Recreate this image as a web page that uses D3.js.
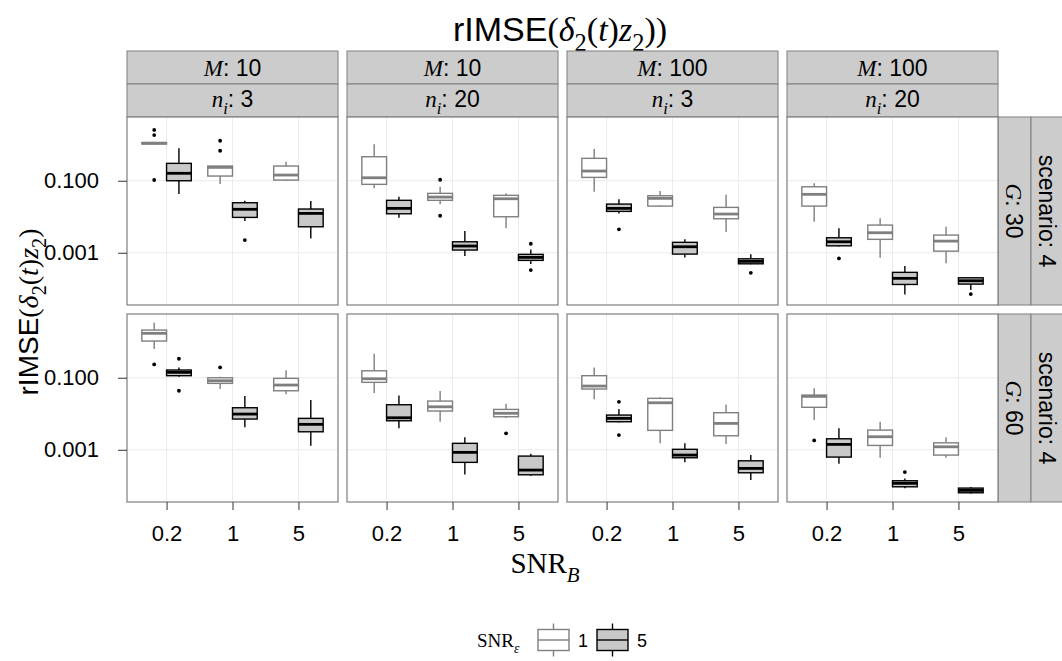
<!DOCTYPE html>
<html>
<head>
<meta charset="utf-8">
<script src="https://cdn.jsdelivr.net/npm/d3@7"></script>
<style>
body { margin: 0; background: #fff; }
text { font-family: "Liberation Sans", Arial, sans-serif; fill: #000; }
.it { font-family: "Liberation Serif", serif; font-style: italic; }
.rm { font-family: "Liberation Serif", serif; }
</style>
</head>
<body>
<script>
// facets and groups
var snrB = ["0.2", "1", "5"];
var snrEps = ["1", "5"];
var Ms = [10, 10, 100, 100];
var nis = [3, 20, 3, 20];
var Gs = [30, 60];
var yTicks = [0.1, 0.001];

// box stats per panel: [lower whisker, q1, median, q3, upper whisker, outliers]
// order: SNR_B 0.2 (eps 1, eps 5), 1 (eps 1, eps 5), 5 (eps 1, eps 5)
var g30_m10_n3 = [
  [1.05, 1.05, 1.1, 1.15, 1.15, [2.57, 1.86, 0.105]],
  [0.0427, 0.1, 0.161, 0.304, 0.794, []],
  [0.081, 0.135, 0.235, 0.256, 0.256, [1.29, 0.68]],
  [0.0076, 0.0096, 0.0161, 0.0245, 0.0278, [0.00225]],
  [0.098, 0.1045, 0.144, 0.256, 0.337, []],
  [0.00251, 0.00527, 0.0124, 0.0164, 0.0273, []]
];
var g30_m10_n20 = [
  [0.0615, 0.0794, 0.121, 0.464, 1.03, []],
  [0.0094, 0.0121, 0.0171, 0.0286, 0.036, []],
  [0.0221, 0.0286, 0.0352, 0.0447, 0.068, [0.1066, 0.01066]],
  [0.00081, 0.00119, 0.00154, 0.00202, 0.004, []],
  [0.00477, 0.01, 0.0316, 0.0393, 0.0447, []],
  [0.000485, 0.000615, 0.000745, 0.000903, 0.00124, [0.00178, 0.00033]]
];
var g30_m100_n3 = [
  [0.0495, 0.124, 0.186, 0.419, 0.76, []],
  [0.0124, 0.0141, 0.0171, 0.0225, 0.0304, [0.00447]],
  [0.019, 0.0198, 0.0324, 0.0383, 0.0518, []],
  [0.000745, 0.00092, 0.00147, 0.00195, 0.00236, []],
  [0.00376, 0.0088, 0.0119, 0.0182, 0.0408, []],
  [0.00048, 0.000494, 0.000577, 0.00068, 0.000903, [0.000278]]
];
var g30_m100_n20 = [
  [0.00726, 0.0198, 0.0419, 0.068, 0.0847, []],
  [0.0015, 0.00156, 0.00202, 0.00261, 0.00477, [0.000698]],
  [0.000726, 0.00236, 0.0036, 0.00588, 0.00903, []],
  [0.0000698, 0.000132, 0.000195, 0.000286, 0.000428, []],
  [0.000508, 0.00111, 0.00211, 0.0031, 0.00527, []],
  [0.000092, 0.000135, 0.000167, 0.000202, 0.000202, [0.0000713]]
];
var g60_m10_n3 = [
  [0.627, 1.045, 1.71, 2.11, 3.37, [0.235]],
  [0.107, 0.114, 0.141, 0.164, 0.194, [0.337, 0.0435]],
  [0.0486, 0.0698, 0.0826, 0.1, 0.107, [0.194]],
  [0.00419, 0.00713, 0.0098, 0.0147, 0.031, []],
  [0.0346, 0.0435, 0.0627, 0.0962, 0.161, []],
  [0.00129, 0.00316, 0.00508, 0.00745, 0.024, []]
];
var g60_m10_n20 = [
  [0.0376, 0.0745, 0.0938, 0.156, 0.464, []],
  [0.00393, 0.00639, 0.00774, 0.0178, 0.0324, []],
  [0.006, 0.0119, 0.0156, 0.0225, 0.0427, []],
  [0.000207, 0.000447, 0.000848, 0.00151, 0.00221, []],
  [0.0076, 0.00826, 0.0103, 0.0132, 0.019, [0.00286]],
  [0.00019, 0.000202, 0.000273, 0.000668, 0.000774, []]
];
var g60_m100_n3 = [
  [0.0251, 0.0486, 0.0588, 0.114, 0.194, []],
  [0.0057, 0.006, 0.00745, 0.0092, 0.0135, [0.0215, 0.00256]],
  [0.00151, 0.00346, 0.0202, 0.0268, 0.0286, []],
  [0.000447, 0.0006, 0.000713, 0.00103, 0.00151, []],
  [0.00144, 0.00245, 0.0054, 0.0107, 0.0182, []],
  [0.000144, 0.00023, 0.000304, 0.000494, 0.000713, []]
];
var g60_m100_n20 = [
  [0.00668, 0.0151, 0.0304, 0.033, 0.0508, [0.00182]],
  [0.000408, 0.000627, 0.00141, 0.00202, 0.00393, []],
  [0.0006, 0.00132, 0.0023, 0.00352, 0.006, []],
  [0.0000848, 0.0000938, 0.000117, 0.000138, 0.00016, [0.00024]],
  [0.0006, 0.000713, 0.00121, 0.00156, 0.00221, []],
  [0.0000615, 0.000064, 0.0000745, 0.0000863, 0.000092, []]
];
var panels = [
  [g30_m10_n3, g30_m10_n20, g30_m100_n3, g30_m100_n20],
  [g60_m10_n3, g60_m10_n20, g60_m100_n3, g60_m100_n20]
];

var width = 1062, height = 661;
var pw = 211, ph = 188;
var left0 = 127, top0 = 117, gap = 9;
var stripH = 33;

var svg = d3.select("body").append("svg")
  .attr("width", width)
  .attr("height", height);

// rich text helper: parts = [[text, class, "sub"?], ...]
function rich(sel, parts, size) {
  var down = false;
  parts.forEach(function(p) {
    var t = sel.append("tspan").attr("class", p[1] || null).text(p[0]);
    if (p[2] === "sub" && !down) { t.attr("dy", size * 0.3).style("font-size", (size * 0.72) + "px"); down = true; }
    else if (p[2] === "sub") { t.style("font-size", (size * 0.72) + "px"); }
    else if (down) { t.attr("dy", -size * 0.3); down = false; }
  });
  return sel;
}

var x = d3.scalePoint().domain(snrB).range([0, pw]).padding(0.6);
var step = x.step();
var bw = 0.375 * step;
var y = d3.scaleLog().domain([Math.pow(10, -4.45), Math.pow(10, 0.77)]).range([ph, 0]);

var styles = {
  "1": { stroke: "#7f7f7f", fill: "#ffffff" },
  "5": { stroke: "#000000", fill: "#c9c9c9" }
};

// title
rich(svg.append("text").attr("x", 560).attr("y", 41).attr("text-anchor", "middle").style("font-size", "34px"),
  [["rIMSE"], ["(", "rm"], ["δ", "it"], ["2", "rm", "sub"], ["(", "rm"], ["t", "it"], [")", "rm"], ["z", "it"], ["2", "rm", "sub"], ["))", "rm"]], 34);

// top strips
Ms.forEach(function(m, c) {
  var sx = left0 + c * (pw + gap);
  svg.append("rect").attr("x", sx).attr("y", top0 - 2 * stripH).attr("width", pw).attr("height", stripH)
    .attr("fill", "#cccccc").attr("stroke", "#7f7f7f");
  svg.append("rect").attr("x", sx).attr("y", top0 - stripH).attr("width", pw).attr("height", stripH)
    .attr("fill", "#cccccc").attr("stroke", "#7f7f7f");
  rich(svg.append("text").attr("x", sx + pw / 2).attr("y", top0 - stripH - 8).attr("text-anchor", "middle").style("font-size", "23px"),
    [["M", "it"], [": " + m]], 23);
  rich(svg.append("text").attr("x", sx + pw / 2).attr("y", top0 - 10).attr("text-anchor", "middle").style("font-size", "23px"),
    [["n", "it"], ["i", "it", "sub"], [": " + nis[c]]], 23);
});

// right strips
Gs.forEach(function(g, r) {
  var sy = top0 + r * (ph + gap);
  var sx = left0 + 4 * pw + 3 * gap;
  svg.append("rect").attr("x", sx).attr("y", sy).attr("width", stripH).attr("height", ph)
    .attr("fill", "#cccccc").attr("stroke", "#7f7f7f");
  svg.append("rect").attr("x", sx + stripH).attr("y", sy).attr("width", stripH).attr("height", ph)
    .attr("fill", "#cccccc").attr("stroke", "#7f7f7f");
  rich(svg.append("text").attr("transform", "translate(" + (sx + 8) + "," + (sy + ph / 2) + ") rotate(90)")
    .attr("text-anchor", "middle").style("font-size", "23px"),
    [["G", "it"], [": " + g]], 23);
  svg.append("text").attr("transform", "translate(" + (sx + stripH + 8) + "," + (sy + ph / 2) + ") rotate(90)")
    .attr("text-anchor", "middle").style("font-size", "23px").text("scenario: 4");
});

// panels
panels.forEach(function(row, r) {
  row.forEach(function(data, c) {
    var g = svg.append("g").attr("transform", "translate(" + (left0 + c * (pw + gap)) + "," + (top0 + r * (ph + gap)) + ")");
    g.append("rect").attr("width", pw).attr("height", ph).attr("fill", "#fff");
    g.selectAll("line.gx").data(snrB).enter().append("line")
      .attr("x1", function(d) { return x(d); }).attr("x2", function(d) { return x(d); })
      .attr("y1", 0).attr("y2", ph).attr("stroke", "#ebebeb");
    g.selectAll("line.gy").data(yTicks).enter().append("line")
      .attr("x1", 0).attr("x2", pw)
      .attr("y1", function(d) { return y(d); }).attr("y2", function(d) { return y(d); }).attr("stroke", "#ebebeb");

    snrB.forEach(function(cat, i) {
      snrEps.forEach(function(e, j) {
        var d = data[i * 2 + j];
        var st = styles[e];
        var cx = x(cat) + (j === 0 ? -1 : 1) * bw / 2;
        g.append("line").attr("x1", cx).attr("x2", cx).attr("y1", y(d[3])).attr("y2", y(d[4]))
          .attr("stroke", st.stroke).attr("stroke-width", 1.4);
        g.append("line").attr("x1", cx).attr("x2", cx).attr("y1", y(d[1])).attr("y2", y(d[0]))
          .attr("stroke", st.stroke).attr("stroke-width", 1.4);
        g.append("rect").attr("x", cx - bw / 2).attr("y", y(d[3]))
          .attr("width", bw).attr("height", Math.max(0, y(d[1]) - y(d[3])))
          .attr("fill", st.fill).attr("stroke", st.stroke).attr("stroke-width", 1.4);
        g.append("line").attr("x1", cx - bw / 2).attr("x2", cx + bw / 2).attr("y1", y(d[2])).attr("y2", y(d[2]))
          .attr("stroke", st.stroke).attr("stroke-width", 2.8);
        g.selectAll(null).data(d[5]).enter().append("circle")
          .attr("cx", cx).attr("cy", function(v) { return y(v); }).attr("r", 1.9).attr("fill", "#000");
      });
    });

    g.append("rect").attr("width", pw).attr("height", ph).attr("fill", "none").attr("stroke", "#7f7f7f").attr("stroke-width", 1.2);

    if (c === 0) {
      var ax = g.append("g").call(d3.axisLeft(y).tickValues(yTicks).tickFormat(d3.format(".3f")).tickSize(9).tickPadding(19));
      ax.select(".domain").remove();
      ax.selectAll("line").attr("stroke", "#333");
      ax.selectAll("text").style("font-size", "22px").attr("fill", "#000").attr("font-family", "Liberation Sans, Arial, sans-serif");
    }
    if (r === 1) {
      var bx = g.append("g").attr("transform", "translate(0," + ph + ")")
        .call(d3.axisBottom(x).tickSize(8).tickPadding(15));
      bx.select(".domain").remove();
      bx.selectAll("line").attr("stroke", "#333");
      bx.selectAll("text").style("font-size", "22px").attr("fill", "#000").attr("font-family", "Liberation Sans, Arial, sans-serif");
    }
  });
});

// axis titles
rich(svg.append("text").attr("transform", "translate(38,312) rotate(-90)").attr("text-anchor", "middle").style("font-size", "28px"),
  [["rIMSE"], ["(", "rm"], ["δ", "it"], ["2", "rm", "sub"], ["(", "rm"], ["t", "it"], [")", "rm"], ["z", "it"], ["2", "rm", "sub"], [")", "rm"]], 28);
rich(svg.append("text").attr("x", 545).attr("y", 573).attr("text-anchor", "middle").style("font-size", "29px"),
  [["SNR", "rm"], ["B", "it", "sub"]], 29);

// legend
rich(svg.append("text").attr("x", 477).attr("y", 647).style("font-size", "19px"),
  [["SNR", "rm"], ["ε", "it", "sub"]], 19);
var keyX = [538, 597];
snrEps.forEach(function(e, j) {
  var st = styles[e];
  var kx = keyX[j], kw = 31;
  var lg = svg.append("g");
  lg.append("line").attr("x1", kx + kw / 2).attr("x2", kx + kw / 2).attr("y1", 623.5).attr("y2", 656.5)
    .attr("stroke", st.stroke).attr("stroke-width", 1.4);
  lg.append("rect").attr("x", kx).attr("y", 629.5).attr("width", kw).attr("height", 21)
    .attr("fill", st.fill).attr("stroke", st.stroke).attr("stroke-width", 1.4);
  lg.append("line").attr("x1", kx).attr("x2", kx + kw).attr("y1", 640).attr("y2", 640)
    .attr("stroke", st.stroke).attr("stroke-width", 1.4);
  lg.append("text").attr("x", kx + kw + 9).attr("y", 647).style("font-size", "18px").text(e);
});
</script>
</body>
</html>
